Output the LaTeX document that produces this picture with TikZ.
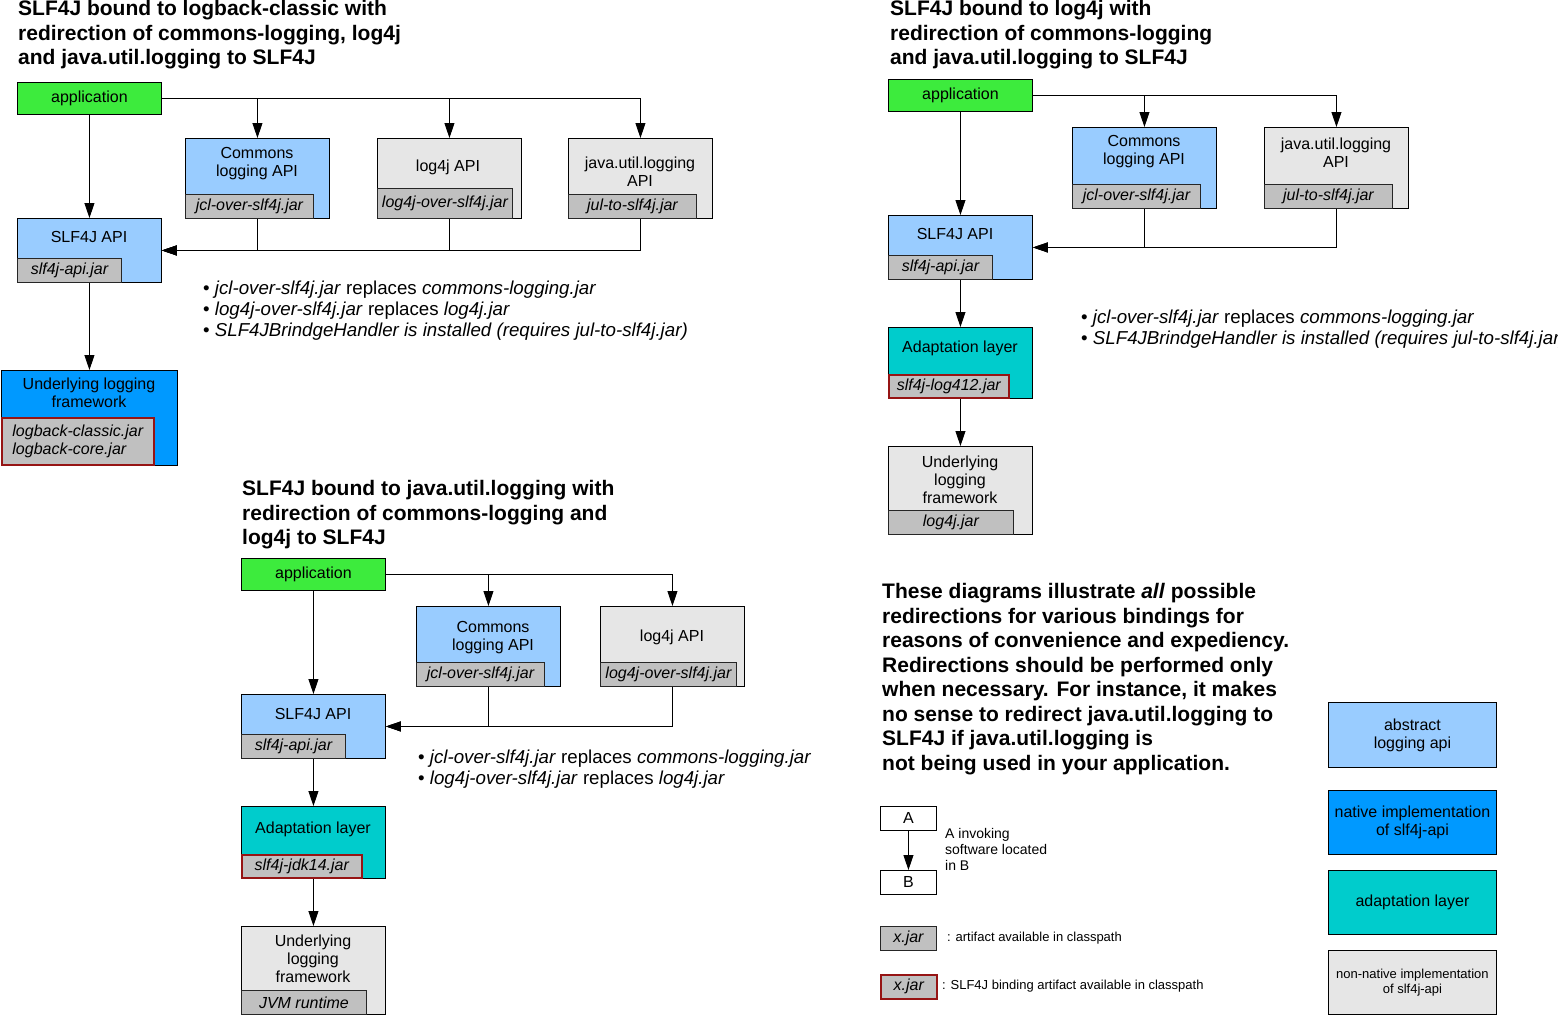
\documentclass[tikz,border=0pt]{standalone}
\usepackage{fontspec}
\setmainfont{Liberation Sans}
\usetikzlibrary{arrows.meta, positioning}
\definecolor{appgreen}{RGB}{61,235,61}
\definecolor{absblue}{RGB}{153,204,255}
\definecolor{natblue}{RGB}{0,153,255}
\definecolor{adaptteal}{RGB}{0,204,204}
\definecolor{nonnatgray}{RGB}{230,230,230}
\definecolor{jargray}{RGB}{192,192,192}
\definecolor{bindred}{RGB}{150,20,20}

\begin{document}
\begin{tikzpicture}[
    x=1pt, y=-1pt,
    box/.style={rectangle, draw=black, line width=0.9pt, anchor=north west, inner sep=0pt, minimum width=144pt, align=center, font=\fontsize{16}{18}\selectfont},
    appbox/.style={box, fill=appgreen, minimum height=32pt},
    absbox/.style={box, fill=absblue},
    natbox/.style={box, fill=natblue},
    adaptbox/.style={box, fill=adaptteal},
    nonnat/.style={box, fill=nonnatgray},
    plainbox/.style={box, fill=white, minimum width=56pt, minimum height=24pt},
    jar/.style={rectangle, draw=black!85, line width=0.9pt, fill=jargray, anchor=south west, inner sep=0pt, minimum height=24pt, align=left, font=\fontsize{16}{18}\selectfont\itshape},
    bindjar/.style={jar, draw=bindred, line width=1.6pt},
    boxtext/.style={align=center, inner sep=0pt, font=\fontsize{16}{18}\selectfont},
    heading/.style={anchor=north west, align=left, inner sep=0pt, font=\fontsize{21}{24.5}\selectfont\bfseries},
    remark/.style={anchor=west, inner sep=0pt, font=\fontsize{18.7}{21}\selectfont},
    legtext/.style={anchor=west, align=left, inner sep=0pt},
    arrow/.style={line width=0.9pt, -{Triangle[length=15pt,width=10pt]}}
]
\useasboundingbox (0,0) rectangle (1558,1015);

% logback-classic
\node[heading] (title1) at (18,0.5) {SLF4J bound to logback-classic with\\redirection of commons-logging, log4j\\and java.util.logging to SLF4J};

\node[appbox] (app1) at (17,82) {application};
\node[absbox, minimum height=80pt] (cl1) at (185,138) {};
\node[nonnat, minimum height=80pt] (l4j1) at (377,138) {};
\node[nonnat, minimum height=80pt] (jul1) at (568,138) {};
\node[absbox, minimum height=64pt] (slf1) at (17,218) {};
\node[natbox, minimum width=176pt, minimum height=95pt] (ulf1) at (1,370) {};

\node[jar, minimum width=128pt] (cl1j) at (cl1.south west) {jcl-over-slf4j.jar};
\node[jar, minimum width=135pt, minimum height=30pt] (l4j1j) at (l4j1.south west) {log4j-over-slf4j.jar};
\node[jar, minimum width=128pt] (jul1j) at (jul1.south west) {jul-to-slf4j.jar};
\node[jar, minimum width=104pt] (slf1j) at (slf1.south west) {slf4j-api.jar};
\node[bindjar, minimum width=152pt, minimum height=47pt] (ulf1j) at (ulf1.south west) {logback-classic.jar\\logback-core.jar};

\node[boxtext] (cl1t) at (257,164) {Commons\\logging API};
\node[boxtext] (l4j1t) at (448,167) {log4j API};
\node[boxtext] (jul1t) at (640,172) {java.util.logging\\API};
\node[boxtext] (slf1t) at (89,237) {SLF4J API};
\node[boxtext] (ulf1t) at (89,393) {Underlying logging\\framework};

\draw[arrow] (app1.east) -| (cl1.north);
\draw[arrow] (app1.east) -| (l4j1.north);
\draw[arrow] (app1.east) -| (jul1.north);
\draw[arrow] (app1) -- (slf1);
\draw[arrow] (cl1.south) |- (slf1.east);
\draw[arrow] (l4j1.south) |- (slf1.east);
\draw[arrow] (jul1.south) |- (slf1.east);
\draw[arrow] (slf1) -- (ulf1);

\node[remark] (note1a) at (203,290) {\textbullet\ \textit{jcl-over-slf4j.jar} replaces \textit{commons-logging.jar}};
\node[remark] (note1b) at (203,311) {\textbullet\ \textit{log4j-over-slf4j.jar} replaces \textit{log4j.jar}};
\node[remark] (note1c) at (203,332) {\textbullet\ \textit{SLF4JBrindgeHandler is installed (requires jul-to-slf4j.jar)}};

% log4j
\node[heading] (title2) at (890,0.5) {SLF4J bound to log4j with\\redirection of commons-logging\\and java.util.logging to SLF4J};

\node[appbox] (app2) at (888,79) {application};
\node[absbox, minimum height=81pt] (cl2) at (1072,127) {};
\node[nonnat, minimum height=81pt] (jul2) at (1264,127) {};
\node[absbox, minimum height=64pt] (slf2) at (888,215) {};
\node[adaptbox, minimum height=71pt] (ada2) at (888,327) {};
\node[nonnat, minimum height=88pt] (ulf2) at (888,446) {};

\node[jar, minimum width=128pt] (cl2j) at (cl2.south west) {jcl-over-slf4j.jar};
\node[jar, minimum width=128pt] (jul2j) at (jul2.south west) {jul-to-slf4j.jar};
\node[jar, minimum width=104pt] (slf2j) at (slf2.south west) {slf4j-api.jar};
\node[bindjar, minimum width=120pt, minimum height=23pt] (ada2j) at (ada2.south west) {slf4j-log412.jar};
\node[jar, minimum width=125pt] (ulf2j) at (ulf2.south west) {log4j.jar};

\node[boxtext] (cl2t) at (1144,152) {Commons\\logging API};
\node[boxtext] (jul2t) at (1336,153) {java.util.logging\\API};
\node[boxtext] (slf2t) at (955,234) {SLF4J API};
\node[boxtext] (ada2t) at (960,348) {Adaptation layer};
\node[boxtext] (ulf2t) at (960,480) {Underlying\\logging\\framework};

\draw[arrow] (app2.east) -| (cl2.north);
\draw[arrow] (app2.east) -| (jul2.north);
\draw[arrow] (app2) -- (slf2);
\draw[arrow] (cl2.south) |- (slf2.east);
\draw[arrow] (jul2.south) |- (slf2.east);
\draw[arrow] (slf2) -- (ada2);
\draw[arrow] (ada2) -- (ulf2);

\node[remark] (note2a) at (1081,319) {\textbullet\ \textit{jcl-over-slf4j.jar} replaces \textit{commons-logging.jar}};
\node[remark] (note2b) at (1081,340) {\textbullet\ \textit{SLF4JBrindgeHandler is installed (requires jul-to-slf4j.jar)}};

% java.util.logging
\node[heading] (title3) at (242,480.5) {SLF4J bound to java.util.logging with\\redirection of commons-logging and\\log4j to SLF4J};

\node[appbox] (app3) at (241,558) {application};
\node[absbox, minimum height=80pt] (cl3) at (416,606) {};
\node[nonnat, minimum height=80pt] (l4j3) at (600,606) {};
\node[absbox, minimum height=64pt] (slf3) at (241,694) {};
\node[adaptbox, minimum height=72pt] (ada3) at (241,806) {};
\node[nonnat, minimum height=88pt] (ulf3) at (241,926) {};

\node[jar, minimum width=128pt] (cl3j) at (cl3.south west) {jcl-over-slf4j.jar};
\node[jar, minimum width=136pt] (l4j3j) at (l4j3.south west) {log4j-over-slf4j.jar};
\node[jar, minimum width=104pt] (slf3j) at (slf3.south west) {slf4j-api.jar};
\node[bindjar, minimum width=120pt, minimum height=23pt] (ada3j) at (ada3.south west) {slf4j-jdk14.jar};
\node[jar, minimum width=125pt] (ulf3j) at (ulf3.south west) {JVM runtime};

\node[boxtext] (cl3t) at (493,638) {Commons\\logging API};
\node[boxtext] (l4j3t) at (672,637) {log4j API};
\node[boxtext] (slf3t) at (313,714) {SLF4J API};
\node[boxtext] (ada3t) at (313,829) {Adaptation layer};
\node[boxtext] (ulf3t) at (313,959) {Underlying\\logging\\framework};

\draw[arrow] (app3.east) -| (cl3.north);
\draw[arrow] (app3.east) -| (l4j3.north);
\draw[arrow] (app3) -- (slf3);
\draw[arrow] (cl3.south) |- (slf3.east);
\draw[arrow] (l4j3.south) |- (slf3.east);
\draw[arrow] (slf3) -- (ada3);
\draw[arrow] (ada3) -- (ulf3);

\node[remark] (note3a) at (418,759) {\textbullet\ \textit{jcl-over-slf4j.jar} replaces \textit{commons-logging.jar}};
\node[remark] (note3b) at (418,780) {\textbullet\ \textit{log4j-over-slf4j.jar} replaces \textit{log4j.jar}};

% legend
\node[heading] (summary) at (882,583.5) {These diagrams illustrate \textit{all} possible\\redirections for various bindings for\\reasons of convenience and expediency.\\Redirections should be performed only\\when necessary. For instance, it makes\\no sense to redirect java.util.logging to\\SLF4J if java.util.logging is\\not being used in your application.};

\node[plainbox] (keya) at (880,806) {A};
\node[plainbox] (keyb) at (880,870) {B};
\draw[arrow] (keya) -- (keyb);
\node[legtext, font=\fontsize{14}{16}\selectfont] (keyat) at (945,849) {A invoking\\software located\\in B};

\node[jar, anchor=north west, minimum width=56pt] (keyjar) at (880,926) {x.jar};
\node[legtext, font=\fontsize{13}{15}\selectfont] (keyjart) at (947,938) {: artifact available in classpath};
\node[bindjar, anchor=north west, minimum width=56pt] (keybind) at (880,974) {x.jar};
\node[legtext, font=\fontsize{13}{15}\selectfont] (keybindt) at (942,986) {: SLF4J binding artifact available in classpath};

\node[absbox, minimum width=168pt, minimum height=65pt] (keyabs) at (1328,702) {abstract\\logging api};
\node[natbox, minimum width=168pt, minimum height=64pt] (keynat) at (1328,790) {native implementation\\of slf4j-api};
\node[adaptbox, minimum width=168pt, minimum height=64pt] (keyada) at (1328,870) {adaptation layer};
\node[nonnat, minimum width=168pt, minimum height=64pt, font=\fontsize{13}{15}\selectfont] (keynon) at (1328,950) {non-native implementation\\of slf4j-api};

\end{tikzpicture}
\end{document}
